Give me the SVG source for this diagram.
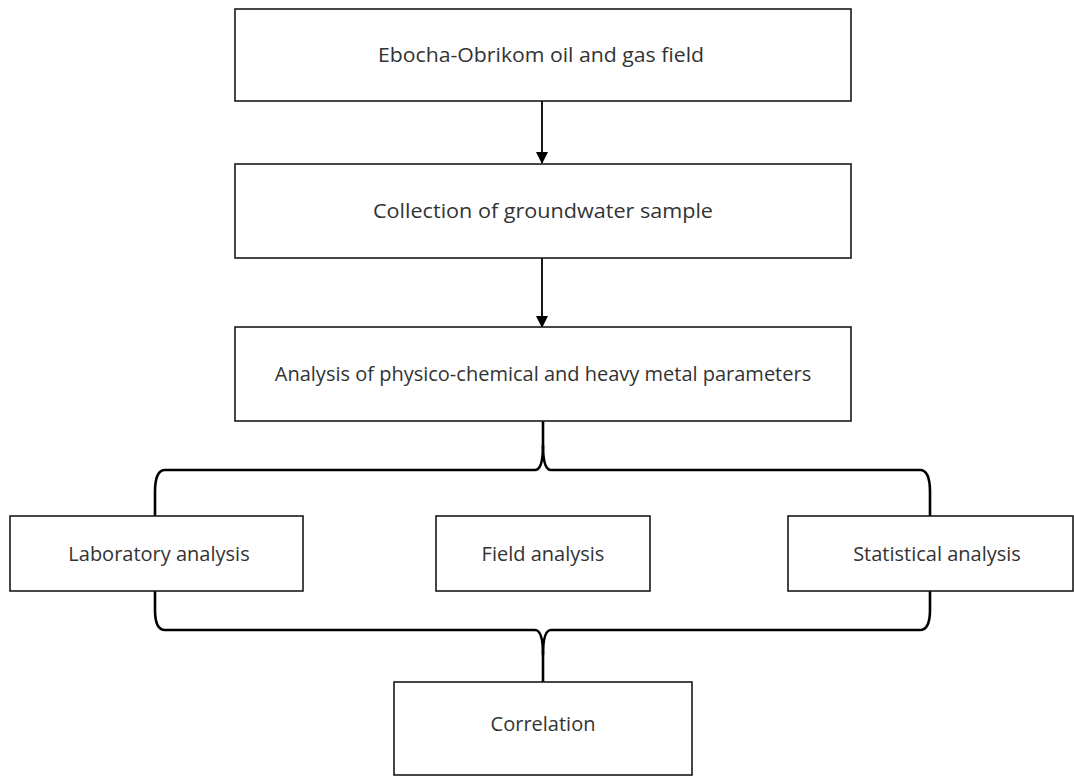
<svg xmlns="http://www.w3.org/2000/svg" width="1074" height="776" viewBox="0 0 1074 776">
<style>
.box{fill:#fff;stroke:#1a1a1a;stroke-width:1.6}
.lbl{font-family:"Open Sans","Noto Sans",sans-serif;font-size:20px;fill:#333;text-anchor:middle}
.arr{stroke:#000;stroke-width:1.8;fill:none}
.brace{stroke:#000;stroke-width:2.6;fill:none}
</style>
<defs>
<marker id="ah" markerWidth="12" markerHeight="12" refX="11" refY="6" orient="auto" markerUnits="userSpaceOnUse">
<path d="M0,0 L12,6 L0,12 Z" fill="#000"/>
</marker>
</defs>
<rect width="1074" height="776" fill="#fff"/>
<g id="connectors">
<line class="arr" x1="542" y1="101" x2="542" y2="163" marker-end="url(#ah)"/>
<line class="arr" x1="542" y1="258" x2="542" y2="327" marker-end="url(#ah)"/>
<path class="brace" d="M543,421 L543,445 Q543,470 535,470 L165,470 Q155,470 155,492 L155,516"/>
<path class="brace" d="M543,445 Q543,470 551,470 L920,470 Q930,470 930,492 L930,516"/>
<path class="brace" d="M155,591 L155,610 Q155,630 165,630 L535,630 Q543,630 543,655 L543,682"/>
<path class="brace" d="M543,655 Q543,630 551,630 L920,630 Q930,630 930,610 L930,591"/>
</g>
<g id="n1"><rect class="box" x="235" y="9" width="616" height="92"/><text class="lbl" x="541" y="62" textLength="326" lengthAdjust="spacingAndGlyphs">Ebocha-Obrikom oil and gas field</text></g>
<g id="n2"><rect class="box" x="235" y="164" width="616" height="94"/><text class="lbl" x="543" y="218" textLength="340" lengthAdjust="spacingAndGlyphs">Collection of groundwater sample</text></g>
<g id="n3"><rect class="box" x="235" y="327" width="616" height="94"/><text class="lbl" x="543" y="381">Analysis of physico-chemical and heavy metal parameters</text></g>
<g id="n4"><rect class="box" x="10" y="516" width="293" height="75"/><text class="lbl" x="159" y="561">Laboratory analysis</text></g>
<g id="n5"><rect class="box" x="436" y="516" width="214" height="75"/><text class="lbl" x="543" y="561">Field analysis</text></g>
<g id="n6"><rect class="box" x="788" y="516" width="285" height="75"/><text class="lbl" x="937" y="561">Statistical analysis</text></g>
<g id="n7"><rect class="box" x="394" y="682" width="298" height="93"/><text class="lbl" x="543" y="731">Correlation</text></g>
</svg>
